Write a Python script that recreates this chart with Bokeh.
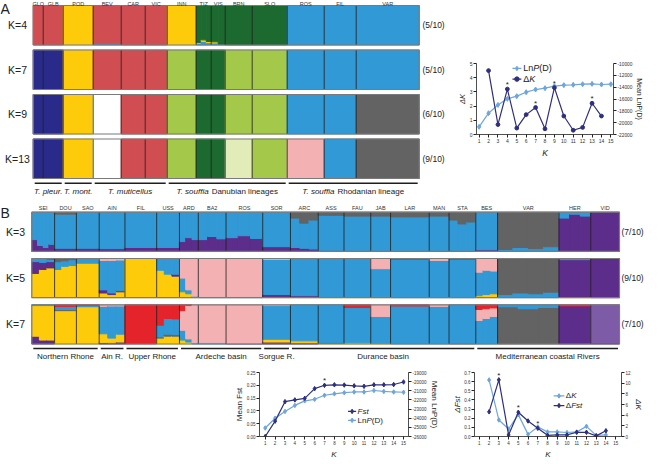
import numpy as np
from bokeh.plotting import figure
from bokeh.models import (Range1d, LinearAxis, Spacer, Title,
                          NumeralTickFormatter, FixedTicker, ColumnDataSource)
from bokeh.layouts import column, row
from bokeh.embed import file_html
from bokeh.resources import INLINE
from bokeh.core.properties import value

FONT = "Liberation Sans"

# ------------------------------------------------------------------ colours
COL = {"red": "#d04d51", "yellow": "#fecb0a", "dgreen": "#1d6a31", "blue": "#3199d6",
       "navy": "#2a2a8a", "lgreen": "#a4c94a", "white": "#ffffff", "gray": "#636363",
       "vlgreen": "#e1ecb9", "pink": "#f4b1b3", "purple": "#5c2d8b", "bred": "#e5232a",
       "lpurple": "#7d5ba6"}
DARK = "#2e2f7f"
LIGHT = "#6ea6db"

# ------------------------------------------------------------------ panel A data
A_pops = ["GLO", "GLB", "POD", "BEV", "CAR", "VIC", "INN", "TIZ", "VIS", "BRN", "SLO", "ROS", "FIL", "VAR"]
A_sizes = [10, 20, 30, 28, 24, 22, 29, 15, 14, 27, 35, 37, 32, 63]
A_klabels = ["K=4", "K=7", "K=9", "K=13"]
A_runs = ["(5/10)", "(5/10)", "(6/10)", "(9/10)"]
A_K4 = ["red", "red", "yellow", {"blue": 0.03, "red": 0.97}, "red", "red", "yellow",
        [{"blue": 0.04, "yellow": 0.02, "dgreen": 0.94}, {"blue": 0.09, "yellow": 0.04, "dgreen": 0.87},
         {"blue": 0.06, "yellow": 0.03, "dgreen": 0.91}],
        [{"blue": 0.05, "yellow": 0.03, "dgreen": 0.92}, {"blue": 0.02, "dgreen": 0.98}],
        "dgreen", "dgreen", "blue", "blue", "blue"]
A_K7 = ["navy", "navy", "yellow", "red", "red", "red", "lgreen", "dgreen", "dgreen",
        "lgreen", "lgreen", "blue", "blue", "blue"]
A_K9 = ["navy", "navy", "yellow", "white", "red", "red", "lgreen", "dgreen", "dgreen",
        "lgreen", "lgreen", "blue", "blue", "gray"]
A_K13 = ["navy", "navy", "yellow", "white", "red", "red", "lgreen", "dgreen", "dgreen",
         "vlgreen", "lgreen", "pink", "blue", "gray"]
A_order = ["blue", "yellow", "navy", "red", "white", "vlgreen", "lgreen", "dgreen", "pink", "gray"]
A_groups_it = ["T. pleur.", "T. mont.", "T. muticellus", "T. souffia", "T. souffia"]
A_groups_rest = ["", "", "", "Danubian lineages", "Rhodanian lineage"]
A_group_first = [0, 2, 3, 6, 11]
A_group_last = [1, 2, 5, 10, 13]

# ------------------------------------------------------------------ panel B data
B_pops = ["SEI", "DOU", "SAO", "AIN", "FIL", "USS", "ARD", "BA2", "ROS", "SOR", "ARC",
          "ASS", "FAU", "JAB", "LAR", "MAN", "STA", "BES", "VAR", "HER", "VID"]
B_sizes = [23, 22, 23, 26, 32, 23, 19, 28, 37, 28, 28, 26, 27, 20, 39, 20, 27, 22, 62, 32, 29]
B_klabels = ["K=3", "K=5", "K=7"]
B_runs = ["(7/10)", "(9/10)", "(7/10)"]
B_K3 = [[{"purple": .3, "blue": .7}, {"purple": .15, "blue": .85}, {"purple": .1, "blue": .9},
         {"purple": .18, "blue": .82}],
        {"purple": .08, "blue": .87, "gray": .05}, {"purple": .08, "blue": .92},
        {"purple": .07, "blue": .93}, {"purple": .1, "blue": .9}, {"purple": .1, "blue": .9},
        [{"purple": .25, "blue": .75}, {"purple": .35, "blue": .65}, {"purple": .3, "blue": .7}],
        [{"purple": .3, "blue": .7}, {"purple": .38, "blue": .62}, {"purple": .32, "blue": .68}],
        [{"purple": .35, "blue": .65}, {"purple": .4, "blue": .6}, {"purple": .33, "blue": .67}],
        {"purple": .12, "blue": .88},
        [{"purple": .1, "blue": .75, "gray": .15}, {"purple": .08, "blue": .64, "gray": .28},
         {"purple": .06, "blue": .74, "gray": .2}],
        {"purple": .02, "blue": .9, "gray": .08}, {"blue": .9, "gray": .1},
        {"blue": .9, "gray": .1}, {"blue": .88, "gray": .12}, {"blue": .9, "gray": .1},
        [{"blue": .8, "gray": .2}, {"blue": .7, "gray": .3}, {"blue": .75, "gray": .25}],
        {"purple": .04, "blue": .96},
        [{"blue": .05, "gray": .95}, {"blue": .1, "gray": .9}, {"blue": .07, "gray": .93},
         {"blue": .12, "gray": .88}],
        [{"purple": .85, "blue": .15}, {"purple": .95, "blue": .05}, {"purple": .9, "blue": .1}],
        {"purple": 1.0}]
B_K5 = [[{"yellow": .62, "purple": .3, "blue": .08}, {"yellow": .72, "purple": .18, "blue": .1},
         {"yellow": .76, "purple": .16, "blue": .06, "gray": .02}],
        [{"yellow": .72, "blue": .2, "gray": .08}, {"yellow": .8, "blue": .14, "gray": .06},
         {"yellow": .82, "blue": .15, "gray": .03}],
        {"yellow": .88, "blue": .12},
        [{"yellow": .12, "purple": .08, "blue": .75, "pink": .05},
         {"yellow": .08, "purple": .04, "blue": .83, "pink": .05},
         {"yellow": .15, "purple": .03, "blue": .78, "pink": .04}],
        {"yellow": 1.0},
        [{"yellow": .7, "blue": .3}, {"yellow": .6, "blue": .4}, {"yellow": .55, "purple": .05, "blue": .4}],
        [{"yellow": .15, "blue": .35, "pink": .5}, {"yellow": .1, "blue": .1, "pink": .8},
         {"yellow": .02, "blue": .02, "pink": .96}],
        {"blue": .03, "pink": .97}, {"blue": .02, "pink": .98},
        {"yellow": .02, "purple": .06, "blue": .9, "pink": .02},
        {"yellow": .02, "purple": .03, "blue": .95}, {"yellow": .02, "blue": .98},
        {"yellow": .03, "blue": .97}, {"yellow": .02, "blue": .72, "pink": .26},
        {"blue": .98, "gray": .02}, {"blue": .95, "pink": .05}, {"blue": .98, "gray": .02},
        [{"yellow": .05, "blue": .6, "pink": .35}, {"yellow": .08, "blue": .62, "pink": .3},
         {"yellow": .1, "blue": .58, "pink": .32}],
        [{"blue": .08, "gray": .92}, {"blue": .12, "gray": .88}, {"blue": .1, "gray": .9},
         {"blue": .14, "gray": .86}],
        {"yellow": .02, "purple": .95, "blue": .03}, {"purple": 1.0}]
B_K7 = [[{"purple": .2, "yellow": .78, "blue": .02}, {"purple": .1, "yellow": .88, "blue": .02},
         {"purple": .1, "yellow": .88, "blue": .02}],
        {"yellow": .85, "gray": .03, "blue": .08, "bred": .04},
        {"yellow": .95, "blue": .03, "bred": .02},
        [{"purple": .04, "yellow": .22, "blue": .7, "pink": .04},
         {"purple": .03, "yellow": .12, "blue": .82, "pink": .03},
         {"purple": .05, "yellow": .2, "blue": .72, "pink": .03}],
        {"bred": 1.0},
        [{"yellow": .15, "gray": .03, "blue": .3, "bred": .52},
         {"yellow": .2, "gray": .05, "blue": .4, "bred": .35},
         {"yellow": .2, "gray": .04, "blue": .4, "bred": .36}],
        [{"yellow": .1, "blue": .25, "pink": .5, "bred": .15},
         {"yellow": .05, "blue": .08, "pink": .85, "bred": .02}, {"blue": .03, "pink": .97}],
        {"blue": .03, "pink": .97}, {"purple": .02, "pink": .98},
        {"purple": .05, "yellow": .07, "blue": .86, "pink": .02},
        {"purple": .03, "yellow": .05, "blue": .92},
        {"yellow": .02, "gray": .02, "blue": .96},
        {"yellow": .03, "blue": .9, "bred": .07},
        {"yellow": .02, "blue": .68, "pink": .3},
        {"blue": .97, "bred": .03}, {"blue": .96, "pink": .04}, {"gray": .02, "blue": .98},
        [{"blue": .6, "pink": .28, "bred": .12}, {"blue": .65, "pink": .25, "bred": .1},
         {"blue": .7, "pink": .22, "bred": .08}],
        [{"gray": .95, "blue": .05}, {"gray": .9, "blue": .1}, {"gray": .93, "blue": .07}],
        {"purple": .97, "bred": .03}, {"purple": .03, "lpurple": .97}]
B_order3 = ["purple", "blue", "gray"]
B_order5 = ["yellow", "purple", "blue", "pink", "gray"]
B_order7 = ["purple", "yellow", "gray", "blue", "pink", "bred", "lpurple"]
B_groups = ["Northern Rhone", "Ain R.", "Upper Rhone", "Ardeche basin", "Sorgue R.",
            "Durance basin", "Mediterranean coastal Rivers"]
B_group_first = [0, 3, 4, 6, 9, 10, 17]
B_group_last = [2, 3, 5, 8, 9, 16, 20]

# ------------------------------------------------------------------ line chart data
K_all = list(range(1, 16))
dK_K = list(range(2, 15))
dK_val = [4.5, 0.7, 3.2, 0.45, 1.4, 1.9, 0.4, 3.3, 1.3, 0.3, 0.5, 2.2, 1.3]
lnA_val = [-20700, -18400, -17000, -15970, -15520, -14850, -14400, -14170, -13830,
           -13660, -13600, -13500, -13440, -13550, -13500]
dK_star = [4, 7, 9, 13]

Fst_val = [0.0, 0.06, 0.136, 0.143, 0.149, 0.187, 0.200, 0.202, 0.201, 0.198, 0.196,
           0.202, 0.202, 0.203, 0.213]
lnB_val = [-25070, -24000, -23260, -22600, -22100, -21930, -21490, -21330, -21210,
           -21130, -21130, -20970, -21070, -21130, -21160]
Fst_star = [7]

dF_K = list(range(2, 15))
dFst_val = [0.27, 0.62, 0.017, 0.265, 0.17, 0.09, 0.013, 0.017, 0.017, 0.046, 0.046, 0.007, 0.063]
dK2_val = [10.6, 3.1, 1.4, 4.1, 0.4, 1.8, 0.85, 0.85, 0.75, 0.85, 1.9, 0.2, 0.3]
dF_star = [3, 5, 7]

# approximate advance widths (1/1000 em) of the sans font, used to join mixed-style texts
CW = {"M": 833, "e": 556, "a": 556, "n": 556, " ": 278, "L": 556, "P": 667, "(": 333,
      ")": 333, "D": 722, "F": 611, "s": 500, "t": 278, "Δ": 668, "K": 667}


# ------------------------------------------------------------------ helpers
def txt(p, xs, ys, ss, fs, align="center", base="middle", style="normal", color="#222222"):
    p.text(x=list(xs), y=list(ys), text=list(ss), text_font=value(FONT),
           text_font_size=value(fs), text_align=align, text_baseline=base,
           text_font_style=style, text_color=color)


def structure_quads(sizes, rows, bases, orders):
    L, R, B, T, C = [], [], [], [], []
    for memb, base, order in zip(rows, bases, orders):
        start = 0
        for n, m in zip(sizes, memb):
            blocks = m if isinstance(m, list) else [m]
            w = n / len(blocks)
            for i, blk in enumerate(blocks):
                if isinstance(blk, str):
                    blk = {blk: 1.0}
                tot = sum(blk.values())
                cum = 0.0
                for c in order:
                    f = blk.get(c, 0) / tot
                    if f > 0:
                        L.append(start + i * w); R.append(start + (i + 1) * w)
                        B.append(base + cum); T.append(base + cum + f); C.append(COL[c])
                        cum += f
            start += n
    return ColumnDataSource(dict(left=L, right=R, bottom=B, top=T, color=C))


def panel(p, sizes, rows, bases, orders):
    p.quad(source=structure_quads(sizes, rows, bases, orders), left="left", right="right",
           bottom="bottom", top="top", fill_color="color", line_color="color", line_width=1.0)
    cum = np.cumsum([0] + sizes)
    inner = list(cum[1:-1])
    for b in bases:
        p.segment(x0=inner, x1=inner, y0=[b] * len(inner), y1=[b + 1] * len(inner),
                  line_color="#1e1e1e", line_width=0.8)
        p.quad(left=[0], right=[cum[-1]], bottom=[b], top=[b + 1], fill_color=None,
               line_color="#7a7a7a", line_width=1.2)
    return cum


def no_align(p):
    try:
        if "frame_align" in p.properties():
            p.frame_align = False
    except Exception:
        pass


def base_fig(w, h, xr, yr):
    p = figure(width=w, height=h, x_range=xr, y_range=yr, x_axis_location=None,
               y_axis_location=None, min_border=0, min_border_left=0, min_border_right=0,
               min_border_top=0, min_border_bottom=0, output_backend="svg",
               toolbar_location=None, tools="", outline_line_color=None)
    p.grid.visible = False
    no_align(p)
    return p


def style_axis(ax, fs="5px"):
    ax.axis_line_color = "#222222"; ax.axis_line_width = 0.8
    ax.major_tick_line_color = "#222222"; ax.major_tick_out = 3; ax.major_tick_in = 0
    ax.minor_tick_line_color = None
    ax.major_label_text_font = FONT; ax.major_label_text_font_size = fs
    ax.major_label_text_color = "#333333"; ax.major_label_standoff = 1


def side_title(p, text, side, fs, style="normal"):
    p.add_layout(Title(text=text, align="center", text_font=FONT, text_font_size=f"{fs}px",
                       text_font_style=style, text_color="#222222", standoff=0, offset=0), side)


def chart_fig(w, h, xr, yr, bl, br, bt, bb):
    p = figure(width=w, height=h, x_range=xr, y_range=yr, output_backend="svg",
               toolbar_location=None, tools="", min_border=0, min_border_left=bl,
               min_border_right=br, min_border_top=bt, min_border_bottom=bb,
               outline_line_color=None)
    p.grid.visible = False
    no_align(p)
    return p


def key(p, entries, x0, x1, xt, ys, fs, msize):
    """Legend drawn in data space: entries = [(pieces, colour, marker)]."""
    for (pieces, color, marker), y in zip(entries, ys):
        p.line([x0, x1], [y, y], line_color=color, line_width=1.2)
        p.scatter([(x0 + x1) / 2], [y], marker=marker, size=msize, fill_color=color,
                  line_color=color)
        off = 0.0
        for t, s in pieces:
            p.text(x=[xt], y=[y], text=[t], x_offset=off, text_font=value(FONT),
                   text_font_size=value(f"{fs}px"), text_font_style=s, text_align="left",
                   text_baseline="middle", text_color="#222222")
            off += sum(CW.get(ch, 556) for ch in t) / 1000.0 * fs


def stars(p, xs, ys):
    p.text(x=xs, y=ys, text=["*"] * len(xs), text_font=value(FONT),
           text_font_size=value("8px"), text_align="center", text_baseline="bottom",
           y_offset=0, text_color="#222222")


# ------------------------------------------------------------------ panel A figure
WA, HA, rhA = 455, 204, 39.5
xA0 = 32.7
figA = base_fig(WA, HA, Range1d(-xA0, WA - xA0), Range1d(0, HA / rhA))
ay = lambda px: (HA - px) / rhA
ax_ = lambda px: px - xA0
A_tops = [5, 49.5, 94, 138.5]
A_bases = [ay(t + rhA) for t in A_tops]
cumA = panel(figA, A_sizes, [A_K4, A_K7, A_K9, A_K13], A_bases, [A_order] * 4)
centA = [(cumA[i] + cumA[i + 1]) / 2 for i in range(len(A_sizes))]
txt(figA, centA, [ay(3.0)] * len(A_pops), A_pops, "5.5px", color="#333333")
txt(figA, [ax_(17)] * 4, [b + 0.5 for b in A_bases], A_klabels, "10.5px")
txt(figA, [ax_(422)] * 4, [b + 0.5 for b in A_bases], A_runs, "8.5px", align="left")
txt(figA, [ax_(0)], [ay(0)], ["A"], "14px", align="left", base="top")
gx0 = [cumA[f] + 1.5 for f in A_group_first]
gx1 = [cumA[l + 1] - 1.5 for l in A_group_last]
figA.segment(x0=gx0, x1=gx1, y0=[ay(182.7)] * 5, y1=[ay(182.7)] * 5,
             line_color="#1e1e1e", line_width=1.6)
fsg = 8.0
it_em = [3.6, 3.5, 5.5, 4.113, 4.113]
rest_em = [0, 0, 0, 8.282, 8.338]
gap_em = 0.278
for i in range(5):
    c = (gx0[i] + gx1[i]) / 2
    if rest_em[i] == 0:
        txt(figA, [c], [ay(190.5)], [A_groups_it[i]], "8px", style="italic")
    else:
        tot = (it_em[i] + gap_em + rest_em[i]) * fsg
        x0 = c - tot / 2
        txt(figA, [x0], [ay(190.5)], [A_groups_it[i]], "8px", align="left", style="italic")
        txt(figA, [x0 + (it_em[i] + gap_em) * fsg], [ay(190.5)], [A_groups_rest[i]], "8px",
            align="left")

# ------------------------------------------------------------------ ΔK figure (top right)
figDK = chart_fig(189, 143, Range1d(0.72, 15.28), Range1d(0, 5), 20, 26, 2, 70)
figDK.extra_y_ranges = {"lnp": Range1d(-22000, -10000)}
rax = LinearAxis(y_range_name="lnp", ticker=FixedTicker(ticks=list(range(-22000, -9999, 2000))),
                 formatter=NumeralTickFormatter(format="0"))
figDK.add_layout(rax, "right")
figDK.xaxis.ticker = FixedTicker(ticks=K_all)
figDK.yaxis[0].ticker = FixedTicker(ticks=[0, 1, 2, 3, 4, 5])
style_axis(figDK.xaxis[0]); style_axis(figDK.yaxis[0]); style_axis(rax, "4.8px")
side_title(figDK, "ΔK", "left", 7.5, "italic")
side_title(figDK, "Mean LnP(D)", "right", 7)
side_title(figDK, "K", "below", 8.5, "italic")
figDK.line(K_all, lnA_val, y_range_name="lnp", line_color=LIGHT, line_width=1.2)
figDK.scatter(K_all, lnA_val, y_range_name="lnp", marker="diamond", size=5,
              fill_color=LIGHT, line_color=LIGHT)
figDK.line(dK_K, dK_val, line_color=DARK, line_width=1.2)
figDK.scatter(dK_K, dK_val, marker="circle", size=3.8, fill_color=DARK, line_color=DARK)
stars(figDK, dK_star, [dK_val[dK_K.index(k)] for k in dK_star])
key(figDK, [([("Ln", "normal"), ("P", "italic"), ("(D)", "normal")], LIGHT, "diamond"),
            ([("Δ", "normal"), ("K", "italic")], DARK, "circle")],
    4.54, 5.49, 5.68, [4.65, 3.9], 9, 4.5)

# ------------------------------------------------------------------ panel B figure
WB, HB, rhB = 644, 162, 39.2
xB0, xB1 = 31.3, 619.0
uppB = sum(B_sizes) / (xB1 - xB0)
figB = base_fig(WB, HB, Range1d(-xB0 * uppB, (WB - xB0) * uppB), Range1d(0, HB / rhB))
by = lambda px: (HB - px) / rhB
bx = lambda px: (px - xB0) * uppB
B_tops = [7.7, 54.0, 100.3]
B_bases = [by(t + rhB) for t in B_tops]
cumB = panel(figB, B_sizes, [B_K3, B_K5, B_K7], B_bases, [B_order3, B_order5, B_order7])
centB = [(cumB[i] + cumB[i + 1]) / 2 for i in range(len(B_sizes))]
txt(figB, centB, [by(3.2)] * len(B_pops), B_pops, "5.5px", color="#333333")
txt(figB, [bx(15)] * 3, [b + 0.5 for b in B_bases], B_klabels, "10.5px")
txt(figB, [bx(621)] * 3, [b + 0.5 for b in B_bases], B_runs, "8.5px", align="left")
txt(figB, [bx(0)], [by(0)], ["B"], "14px", align="left", base="top")
hx0 = [cumB[f] + 1.5 * uppB for f in B_group_first]
hx1 = [cumB[l + 1] - 1.5 * uppB for l in B_group_last]
figB.segment(x0=hx0, x1=hx1, y0=[by(144)] * 7, y1=[by(144)] * 7,
             line_color="#1e1e1e", line_width=1.6)
txt(figB, [(a + b) / 2 for a, b in zip(hx0, hx1)], [by(152)] * 7, B_groups, "8px")

# ------------------------------------------------------------------ Fst figure
figF = chart_fig(218, 92, Range1d(0.42, 15.5), Range1d(0, 0.25), 26, 42, 6, 15)
figF.extra_y_ranges = {"lnp": Range1d(-26000, -19000)}
raxF = LinearAxis(y_range_name="lnp", ticker=FixedTicker(ticks=list(range(-26000, -18999, 1000))),
                  formatter=NumeralTickFormatter(format="0"))
figF.add_layout(raxF, "right")
figF.xaxis.ticker = FixedTicker(ticks=K_all)
figF.yaxis[0].ticker = FixedTicker(ticks=[0, 0.05, 0.1, 0.15, 0.2, 0.25])
figF.yaxis[0].formatter = NumeralTickFormatter(format="0.00")
style_axis(figF.xaxis[0], "4.5px"); style_axis(figF.yaxis[0], "4.5px"); style_axis(raxF, "4.5px")
side_title(figF, "Mean Fst", "left", 8)
side_title(figF, "Mean LnP(D)", "right", 8)
side_title(figF, "K", "below", 8, "italic")
figF.line(K_all, lnB_val, y_range_name="lnp", line_color=LIGHT, line_width=1.2)
figF.scatter(K_all, lnB_val, y_range_name="lnp", marker="diamond", size=4.5,
             fill_color=LIGHT, line_color=LIGHT)
figF.line(K_all, Fst_val, line_color=DARK, line_width=1.2)
figF.scatter(K_all, Fst_val, marker="diamond", size=4.5, fill_color=DARK, line_color=DARK)
stars(figF, Fst_star, [Fst_val[k - 1] for k in Fst_star])
key(figF, [([("Fst", "italic")], DARK, "diamond"),
           ([("Ln", "normal"), ("P", "italic"), ("(D)", "normal")], LIGHT, "diamond")],
    9.38, 10.2, 10.35, [0.098, 0.063], 8, 4.5)

# ------------------------------------------------------------------ ΔFst figure
figD = chart_fig(194, 92, Range1d(0.5, 15.6), Range1d(0, 0.7), 23, 20, 6, 15)
figD.extra_y_ranges = {"dk": Range1d(0, 12)}
raxD = LinearAxis(y_range_name="dk", ticker=FixedTicker(ticks=list(range(0, 13, 2))))
figD.add_layout(raxD, "right")
figD.xaxis.ticker = FixedTicker(ticks=K_all)
figD.yaxis[0].ticker = FixedTicker(ticks=[0, 0.1, 0.2, 0.3, 0.4, 0.5, 0.6, 0.7])
figD.yaxis[0].formatter = NumeralTickFormatter(format="0.0")
style_axis(figD.xaxis[0], "4.5px"); style_axis(figD.yaxis[0], "4.5px"); style_axis(raxD, "4.5px")
side_title(figD, "ΔFst", "left", 8, "italic")
side_title(figD, "ΔK", "right", 8, "italic")
side_title(figD, "K", "below", 8, "italic")
figD.line(dF_K, dK2_val, y_range_name="dk", line_color=LIGHT, line_width=1.2)
figD.scatter(dF_K, dK2_val, y_range_name="dk", marker="diamond", size=4.5,
             fill_color=LIGHT, line_color=LIGHT)
figD.line(dF_K, dFst_val, line_color=DARK, line_width=1.2)
figD.scatter(dF_K, dFst_val, marker="diamond", size=4.5, fill_color=DARK, line_color=DARK)
stars(figD, dF_star, [dFst_val[dF_K.index(k)] for k in dF_star])
key(figD, [([("Δ", "normal"), ("K", "italic")], LIGHT, "diamond"),
           ([("Δ", "normal"), ("Fst", "italic")], DARK, "diamond")],
    8.63, 9.73, 9.88, [0.444, 0.338], 8, 4.5)

# ------------------------------------------------------------------ layout
top = row(figA, column(Spacer(width=189, height=61), figDK))
bottom = row(Spacer(width=232, height=92), figF, figD)
layout = column(top, figB, bottom)
open("out.html", "w").write(file_html(layout, INLINE))
